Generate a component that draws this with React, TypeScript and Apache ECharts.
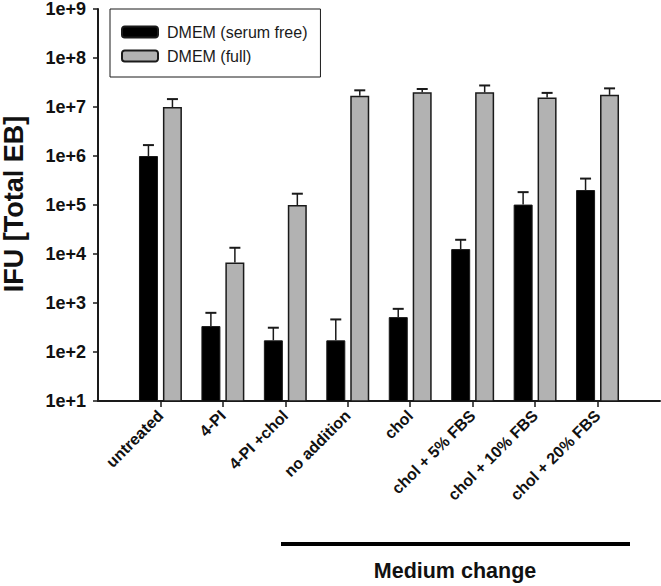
import React, { useEffect, useRef } from "react";
import * as echarts from "echarts";

const categories = [
  "untreated",
  "4-PI",
  "4-PI +chol",
  "no addition",
  "chol",
  "chol + 5% FBS",
  "chol + 10% FBS",
  "chol + 20% FBS",
];
const serumFree = [1.0e6, 338, 173, 173, 515, 12600, 102000, 202000];
const serumFreeErr = [670000, 292, 140, 289, 245, 6900, 81000, 144000];
const full = [1.0e7, 6700, 1.0e5, 1.69e7, 1.99e7, 1.99e7, 1.56e7, 1.77e7];
const fullErr = [4.5e6, 6700, 7.0e4, 5.0e6, 3.4e6, 7.6e6, 3.8e6, 6.3e6];
const seriesNames = ["DMEM (serum free)", "DMEM (full)"];

const FONT = 'Arial, "Liberation Sans", Helvetica, sans-serif';

export default function App() {
  const ref = useRef<HTMLDivElement>(null);
  useEffect(() => {
    document.body.style.margin = "0";
    if (!ref.current) return;
    const chart = echarts.init(ref.current, null, { renderer: "svg" });
    const axisCats = ["", ...categories, ""];
    const pad = (arr: number[]) => [null, ...arr, null];
    const errData = (vals: number[], errs: number[]) =>
      vals.map((v, i) => [i + 1, v, v + errs[i]]);
    const makeErr = (offset: number) => (params: any, api: any) => {
      const x = api.value(0);
      const top = api.coord([x, api.value(1)]);
      const hi = api.coord([x, api.value(2)]);
      const cx = top[0] + offset;
      return {
        type: "group",
        children: [
          {
            type: "line",
            shape: { x1: cx, y1: top[1], x2: cx, y2: hi[1] },
            style: { stroke: "#1a1a1a", lineWidth: 1.5 },
          },
          {
            type: "line",
            shape: { x1: cx - 5.5, y1: hi[1], x2: cx + 5.5, y2: hi[1] },
            style: { stroke: "#1a1a1a", lineWidth: 2 },
          },
        ],
      };
    };
    chart.setOption({
      animation: false,
      backgroundColor: "#ffffff",
      grid: { left: 98, right: 1, top: 7, bottom: 185, containLabel: false },
      legend: {
        left: 110,
        top: 9,
        orient: "vertical",
        data: seriesNames,
        itemWidth: 36,
        itemHeight: 11,
        itemGap: 8,
        padding: [15, 13, 13, 11],
        borderColor: "#1a1a1a",
        borderWidth: 1,
        textStyle: { fontFamily: FONT, fontSize: 16, color: "#1a1a1a", padding: [0, 0, 0, 4] },
      },
      xAxis: {
        type: "category",
        data: axisCats,
        boundaryGap: false,
        axisLine: { lineStyle: { color: "#1a1a1a", width: 2 } },
        axisTick: {
          length: 6,
          lineStyle: { color: "#1a1a1a", width: 1.5 },
          interval: (i: number) => i > 0 && i < axisCats.length - 1,
        },
        axisLabel: {
          interval: (i: number) => i > 0 && i < axisCats.length - 1,
          rotate: 45,
          margin: 12,
          fontFamily: FONT,
          fontSize: 16,
          fontWeight: "bold",
          color: "#111",
        },
        splitLine: { show: false },
      },
      yAxis: {
        type: "log",
        logBase: 10,
        min: 10,
        max: 1e9,
        splitNumber: 8,
        axisLine: { show: true, lineStyle: { color: "#1a1a1a", width: 2 } },
        axisTick: { show: true, length: 5, lineStyle: { color: "#1a1a1a", width: 1.5 } },
        minorTick: { show: false },
        splitLine: { show: false },
        axisLabel: {
          margin: 12,
          fontFamily: FONT,
          fontSize: 18,
          fontWeight: "bold",
          color: "#111",
          formatter: (v: number) => "1e+" + Math.round(Math.log10(v)),
        },
      },
      series: [
        {
          name: seriesNames[0],
          type: "bar",
          data: pad(serumFree),
          barWidth: 19,
          barGap: "26%",
          itemStyle: { color: "#000000", borderColor: "#1a1a1a", borderWidth: 1 },
        },
        {
          name: seriesNames[1],
          type: "bar",
          data: pad(full),
          barWidth: 19,
          barGap: "26%",
          itemStyle: { color: "#b2b2b2", borderColor: "#1a1a1a", borderWidth: 1.5 },
        },
        {
          type: "custom",
          renderItem: makeErr(-12),
          data: errData(serumFree, serumFreeErr),
          encode: { x: 0, y: [1, 2] },
          z: 5,
          silent: true,
        },
        {
          type: "custom",
          renderItem: makeErr(12),
          data: errData(full, fullErr),
          encode: { x: 0, y: [1, 2] },
          z: 5,
          silent: true,
        },
      ],
      graphic: [
        {
          type: "text",
          x: 14,
          y: 204,
          rotation: Math.PI / 2,
          style: {
            text: "IFU [Total EB]",
            fontFamily: FONT,
            fontSize: 27,
            fontWeight: "bold",
            fill: "#111",
            align: "center",
            verticalAlign: "middle",
          },
        },
        {
          type: "line",
          shape: { x1: 281, y1: 544, x2: 630, y2: 544 },
          style: { stroke: "#000", lineWidth: 4 },
        },
        {
          type: "text",
          x: 455,
          y: 571,
          style: {
            text: "Medium change",
            fontFamily: FONT,
            fontSize: 21.5,
            fontWeight: "bold",
            fill: "#111",
            align: "center",
            verticalAlign: "middle",
          },
        },
      ],
    });
    return () => chart.dispose();
  }, []);
  return <div ref={ref} style={{ width: 661, height: 586 }} />;
}
